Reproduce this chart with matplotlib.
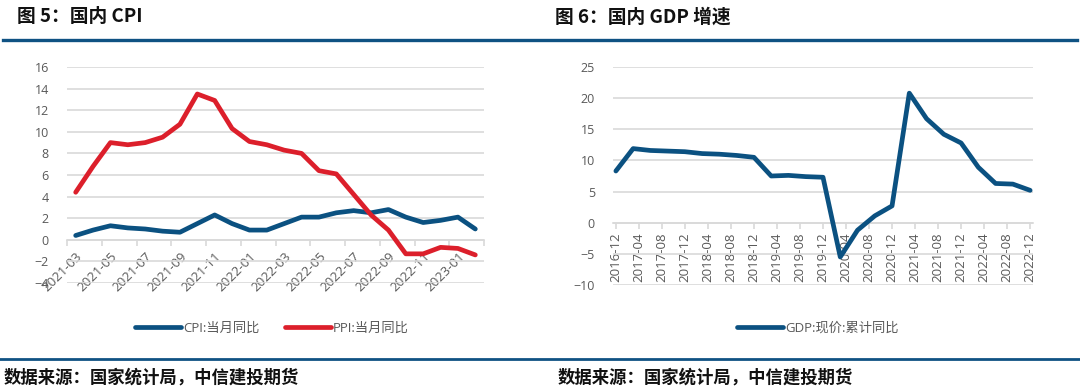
import matplotlib
matplotlib.use("Agg")
import matplotlib.pyplot as plt
from matplotlib.lines import Line2D

plt.rcParams['font.family'] = ['Open Sans', 'Noto Sans CJK SC', 'DejaVu Sans']

# 图5 数据
cpi_months = ["2021-03", "2021-04", "2021-05", "2021-06", "2021-07", "2021-08",
              "2021-09", "2021-10", "2021-11", "2021-12", "2022-01", "2022-02",
              "2022-03", "2022-04", "2022-05", "2022-06", "2022-07", "2022-08",
              "2022-09", "2022-10", "2022-11", "2022-12", "2023-01", "2023-02"]
cpi = [0.4, 0.9, 1.3, 1.1, 1.0, 0.8, 0.7, 1.5, 2.3, 1.5, 0.9, 0.9,
       1.5, 2.1, 2.1, 2.5, 2.7, 2.5, 2.8, 2.1, 1.6, 1.8, 2.1, 1.0]
ppi = [4.4, 6.8, 9.0, 8.8, 9.0, 9.5, 10.7, 13.5, 12.9, 10.3, 9.1, 8.8,
       8.3, 8.0, 6.4, 6.1, 4.2, 2.3, 0.9, -1.3, -1.3, -0.7, -0.8, -1.4]

# 图6 数据
gdp_quarters = ["2016-12", "2017-03", "2017-06", "2017-09", "2017-12",
                "2018-03", "2018-06", "2018-09", "2018-12",
                "2019-03", "2019-06", "2019-09", "2019-12",
                "2020-03", "2020-06", "2020-09", "2020-12",
                "2021-03", "2021-06", "2021-09", "2021-12",
                "2022-03", "2022-06", "2022-09", "2022-12"]
gdp = [8.3, 11.9, 11.6, 11.5, 11.4, 11.1, 11.0, 10.8, 10.5,
       7.5, 7.6, 7.4, 7.3, -5.5, -1.2, 1.1, 2.7,
       20.8, 16.7, 14.2, 12.8, 8.9, 6.3, 6.2, 5.2]
gdp_ticks = ["2016-12", "2017-04", "2017-08", "2017-12", "2018-04", "2018-08",
             "2018-12", "2019-04", "2019-08", "2019-12", "2020-04", "2020-08",
             "2020-12", "2021-04", "2021-08", "2021-12", "2022-04", "2022-08",
             "2022-12"]

BLUE = "#0B5181"
RED = "#DC1F2B"
GRID = "#D9D9D9"
TXT = "#595959"


def month_idx(s):
    y, m = s.split("-")
    return (int(y) - 2016) * 12 + int(m) - 12


def style_axes(ax):
    for s in ["top", "right", "left"]:
        ax.spines[s].set_visible(False)
    ax.spines["bottom"].set_position(("data", 0))
    ax.spines["bottom"].set_color(GRID)
    ax.spines["bottom"].set_linewidth(1.2)
    ax.grid(axis="y", color=GRID, linewidth=1.2)
    ax.set_axisbelow(True)
    ax.tick_params(axis="y", length=0, pad=13, labelsize=9, labelcolor=TXT)


fig = plt.figure(figsize=(10.8, 3.92), dpi=100)

# ---- 图5 ----
ax1 = fig.add_axes([67 / 1080, 109 / 392, 417 / 1080, 216 / 392])
x1 = list(range(len(cpi_months)))
ax1.plot(x1, cpi, color=BLUE, lw=3.4, solid_capstyle="round", zorder=3, label="CPI:当月同比")
ax1.plot(x1, ppi, color=RED, lw=3.4, solid_capstyle="round", zorder=3, label="PPI:当月同比")
ax1.set_xlim(-0.5, len(cpi_months) - 0.5)
ax1.set_ylim(-4, 16)
ax1.set_yticks(range(-4, 17, 2))
style_axes(ax1)
ax1.set_xticks(x1[::2])
ax1.set_xticklabels(cpi_months[::2], rotation=45, ha="right", va="top",
                    rotation_mode="anchor", fontsize=9.5, color=TXT)
ax1.set_xticks([i - 0.5 for i in range(0, len(cpi_months) + 1, 2)], minor=True)
ax1.tick_params(axis="x", which="major", length=0, pad=7)
ax1.tick_params(axis="x", which="minor", length=4, color=GRID, width=1.2)

# ---- 图6 ----
ax2 = fig.add_axes([613 / 1080, 107 / 392, 420 / 1080, 218 / 392])
x2 = [month_idx(q) for q in gdp_quarters]
ax2.plot(x2, gdp, color=BLUE, lw=3.4, solid_capstyle="round", zorder=3, label="GDP:现价:累计同比")
ax2.set_xlim(-0.5, 72.5)
ax2.set_ylim(-10, 25)
ax2.set_yticks(range(-10, 26, 5))
style_axes(ax2)
ax2.set_xticks([month_idx(t) for t in gdp_ticks])
ax2.set_xticklabels(gdp_ticks, rotation=90, fontsize=9.5, color=TXT)
ax2.tick_params(axis="x", length=4, color=GRID, width=1.2, pad=3)

# 图例
h1, l1 = ax1.get_legend_handles_labels()
fig.legend(h1, l1, loc="center left", bbox_to_anchor=(135 / 1080, 1 - 328 / 392),
           frameon=False, ncol=2, fontsize=9.5, labelcolor=TXT, handlelength=3.5,
           handletextpad=0.15, columnspacing=1.9, borderpad=0, borderaxespad=0)
h2, l2 = ax2.get_legend_handles_labels()
fig.legend(h2, l2, loc="center left", bbox_to_anchor=(737 / 1080, 1 - 328 / 392),
           frameon=False, fontsize=9.5, labelcolor=TXT, handlelength=3.5,
           handletextpad=0.15, borderpad=0, borderaxespad=0)

# 标题、分隔线、来源
title_font = dict(fontsize=13.5, fontweight="bold", va="center", ha="left",
                  family=["Noto Sans CJK SC", "DejaVu Sans"], color="#111111")
fig.text(17 / 1080, 1 - 17 / 392, "图 5：国内 CPI", **title_font)
fig.text(555 / 1080, 1 - 17 / 392, "图 6：国内 GDP 增速", **title_font)
fig.add_artist(Line2D([3 / 1080, 1077 / 1080], [1 - 40 / 392] * 2, color="#0F5283", lw=2.4))
fig.add_artist(Line2D([0, 1], [1 - 359 / 392] * 2, color="#0F5283", lw=2.0))
src_font = dict(fontsize=12.5, fontweight="bold", style="italic", va="center", ha="left",
                family=["Noto Sans CJK SC", "DejaVu Sans"], color="#111111")
fig.text(4 / 1080, 1 - 378 / 392, "数据来源：国家统计局，中信建投期货", **src_font)
fig.text(558 / 1080, 1 - 378 / 392, "数据来源：国家统计局，中信建投期货", **src_font)

fig.savefig("out.png", dpi=100)
